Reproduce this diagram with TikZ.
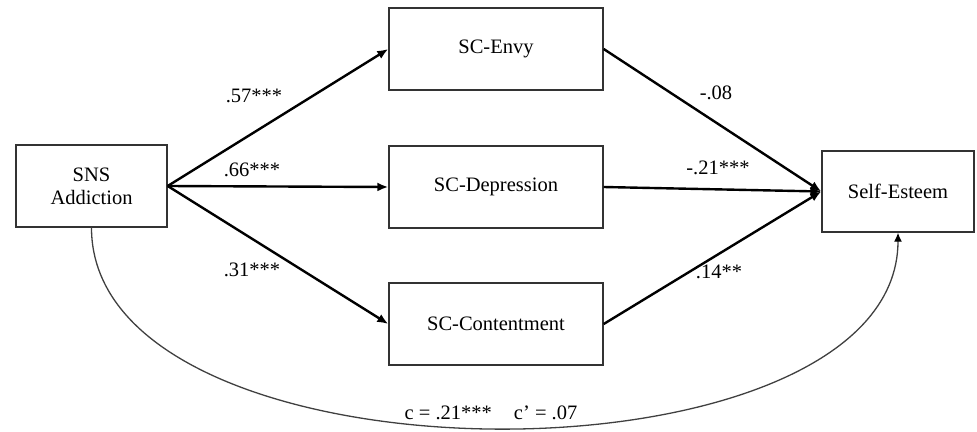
\documentclass[tikz,border=0pt]{standalone}
\usepackage{fontspec}
\setmainfont{Liberation Serif}
\usepackage{amsmath}
\usetikzlibrary{arrows.meta}

\begin{document}
\begin{tikzpicture}[x=1pt,y=-1pt,
    box/.style={draw=black!80, line width=1.4pt, minimum height=82pt, align=center, inner sep=0pt, font=\fontsize{20.5}{23}\selectfont},
    route/.style={-{Latex[length=11pt,width=9pt]}, line width=2.4pt},
    coef/.style={font=\fontsize{20.5}{23}\selectfont}]
    \useasboundingbox (0,0) rectangle (977,431);
    % boxes
    \node[box, minimum width=151pt] (sns) at (91.5,186) {SNS\\Addiction};
    \node[box, minimum width=214pt] (envy) at (496,49) {SC-Envy};
    \node[box, minimum width=214pt] (depr) at (496,187) {SC-Depression};
    \node[box, minimum width=214pt] (cont) at (496,324) {SC-Contentment};
    \node[box, minimum width=152pt, minimum height=81pt] (selfest) at (898,191.5) {Self-Esteem};
    % paths a
    \draw[route] (sns.east) -- (envy.west);
    \draw[route] (sns.east) -- (depr.west);
    \draw[route] (sns.east) -- (cont.west);
    % paths b
    \draw[route] (envy.east) -- (selfest.west);
    \draw[route] (depr.east) -- (selfest.west);
    \draw[route] (cont.east) -- (selfest.west);
    % direct path
    \draw[-{Latex[length=9pt,width=8pt,black]}, black!75, line width=1.3pt] (sns.south) .. controls (91.5,494) and (898,494) .. (selfest.south);
    % coefficients
    \node[coef] (a1) at (254,96) {.57***};
    \node[coef] (a2) at (252,170) {.66***};
    \node[coef] (a3) at (252,270) {.31***};
    \node[coef] (b1) at (716,93) {-.08};
    \node[coef] (b2) at (718,168) {-.21***};
    \node[coef] (b3) at (719,272) {.14**};
    \node[coef] (cpath) at (491,413) {c = .21***\hspace{22pt}c' = .07};
\end{tikzpicture}
\end{document}
